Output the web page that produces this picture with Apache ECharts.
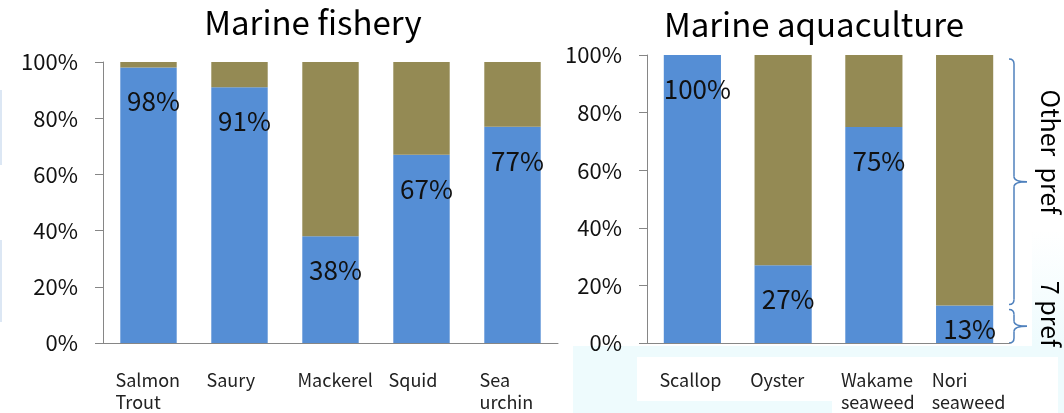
<!DOCTYPE html>
<html>
<head>
<meta charset="utf-8">
<script src="https://cdn.jsdelivr.net/npm/echarts@6/dist/echarts.min.js"></script>
<style>
html,body{margin:0;padding:0;background:#fff;}
#main{width:1064px;height:413px;}
</style>
</head>
<body>
<div id="main"></div>
<script>
// ---- data ----
const fisheryCategories = ['Salmon\nTrout', 'Saury', 'Mackerel', 'Squid', 'Sea\nurchin'];
const fishery7Pref = [98, 91, 38, 67, 77];
const fisheryOtherPref = [2, 9, 62, 33, 23];
const aquaCategories = ['Scallop', 'Oyster', 'Wakame\nseaweed', 'Nori\nseaweed'];
const aqua7Pref = [100, 27, 75, 13];
const aquaOtherPref = [0, 73, 25, 87];
const titles = ['Marine fishery', 'Marine aquaculture'];
const braceLabels = ['Other  pref', '7 pref'];
const yMin = 0, yMax = 100, yInterval = 20;

// ---- styling ----
const FONT = '"Noto Sans CJK JP", "Noto Sans", sans-serif';
const BLUE = '#558ED5';
const OLIVE = '#948A54';
const AXIS = '#868686';
const BRACE = '#4F81BD';
const W = 1064, H = 413;
const grids = [
  {left: 103, right: W - 558, top: 62, bottom: H - 345},
  {left: 647, right: W - 1010, top: 55, bottom: H - 345}
];

function catLabelFormatter(v) {
  return v.split('\n').map(s => '{a|' + s + '}').join('\n');
}

function xAxis(idx, cats) {
  return {
    type: 'category', gridIndex: idx, data: cats,
    axisLine: {lineStyle: {color: AXIS, width: 1}},
    axisTick: {length: 5, lineStyle: {color: AXIS}},
    axisLabel: {
      margin: 26, color: '#222', fontFamily: FONT, fontSize: 18, lineHeight: 22,
      interval: 0, align: 'center', formatter: catLabelFormatter,
      rich: {a: {width: 66, align: 'left', fontFamily: FONT, fontSize: 18, lineHeight: 22, color: '#222'}}
    }
  };
}
function yAxis(idx) {
  return {
    type: 'value', gridIndex: idx, min: yMin, max: yMax, interval: yInterval,
    axisLine: {show: true, lineStyle: {color: AXIS, width: 1}},
    axisTick: {show: true, length: 8, lineStyle: {color: AXIS}},
    splitLine: {show: false},
    axisLabel: {margin: 25, color: '#111', fontFamily: FONT, fontSize: 22, formatter: '{value}%'}
  };
}
function labelled(values) {
  return values.map(v => ({
    value: v,
    label: v < 20
      ? {position: 'insideBottom', distance: 1}
      : {position: 'insideTop', distance: 21}
  }));
}
function seriesPair(idx, pref7, other, gap) {
  return [
    {
      type: 'bar', xAxisIndex: idx, yAxisIndex: idx, stack: 's' + idx, name: '7 pref',
      data: labelled(pref7), barCategoryGap: gap, itemStyle: {color: BLUE},
      label: {show: true, formatter: '{c}%', color: '#111', fontFamily: FONT, fontSize: 26, offset: [5, 0]},
      silent: true
    },
    {
      type: 'bar', xAxisIndex: idx, yAxisIndex: idx, stack: 's' + idx, name: 'Other pref',
      data: other, barCategoryGap: gap, itemStyle: {color: OLIVE}, silent: true
    }
  ];
}

const chart = echarts.init(document.getElementById('main'), null, {renderer: 'canvas'});
const option = {
  animation: false,
  backgroundColor: '#fff',
  title: [
    {text: titles[0], left: 313, top: 6, textAlign: 'center', padding: 0,
     textStyle: {fontFamily: FONT, fontSize: 33, fontWeight: 'normal', color: '#000'}},
    {text: titles[1], left: 814, top: 8, textAlign: 'center', padding: 0,
     textStyle: {fontFamily: FONT, fontSize: 33, fontWeight: 'normal', color: '#000'}}
  ],
  grid: grids,
  xAxis: [xAxis(0, fisheryCategories), xAxis(1, aquaCategories)],
  yAxis: [yAxis(0), yAxis(1)],
  series: [].concat(
    seriesPair(0, fishery7Pref, fisheryOtherPref, '38%'),
    seriesPair(1, aqua7Pref, aquaOtherPref, '37%')
  )
};
chart.setOption(option);

// ---- annotation braces (positions derived from the axis scale) ----
const yOf = v => chart.convertToPixel({yAxisIndex: 1}, v);
const xR = W - grids[1].right;
const y100 = yOf(100), ySplit = yOf(aqua7Pref[3]), y0 = yOf(0);
const braceStyle = {stroke: BRACE, lineWidth: 1.5, fill: 'none'};
function curve(xa, ya, xb, yb, cx, cy) {
  return {type: 'bezierCurve', silent: true,
          shape: {x1: xa, y1: ya, x2: xb, y2: yb, cpx1: cx, cpy1: cy}, style: braceStyle};
}
function seg(xa, ya, xb, yb) {
  return {type: 'line', silent: true, shape: {x1: xa, y1: ya, x2: xb, y2: yb}, style: braceStyle};
}
function brace(top, bot) {
  const x0 = xR - 1, x1 = xR + 4, x2 = xR + 17, mid = (top + bot) / 2, r = 5;
  return [
    curve(x0, top, x1, top + r, x1, top),
    seg(x1, top + r, x1, mid - r),
    curve(x1, mid - r, x2, mid, x1, mid),
    curve(x2, mid, x1, mid + r, x1, mid),
    seg(x1, mid + r, x1, bot - r),
    curve(x1, bot - r, x0, bot, x1, bot)
  ];
}
const tintGrad = {type: 'linear', x: 0, y: 0, x2: 0, y2: 1,
  colorStops: [{offset: 0, color: '#ffffff'}, {offset: 1, color: '#EEFBFD'}]};
chart.setOption({
  graphic: [].concat(
    [
      {type: 'rect', z: -10, silent: true, shape: {x: 573, y: 346, width: W - 573, height: H - 346},
       style: {fill: '#EEFBFD'}},
      {type: 'rect', z: -10, silent: true, shape: {x: 1032, y: 230, width: W - 1032, height: 116},
       style: {fill: tintGrad}},
      {type: 'rect', z: -9, silent: true, shape: {x: 637, y: 357, width: 195, height: 44}, style: {fill: '#fff'}},
      {type: 'rect', z: -9, silent: true, shape: {x: 832, y: 357, width: 226, height: H - 357}, style: {fill: '#fff'}},
      {type: 'rect', z: -9, silent: true, shape: {x: 0, y: 90, width: 2, height: 75}, style: {fill: '#DCE7F4'}},
      {type: 'rect', z: -9, silent: true, shape: {x: 0, y: 240, width: 2, height: 82}, style: {fill: '#DCE7F4'}}
    ],
    brace(y100 + 4, ySplit - 1),
    brace(ySplit + 4, y0),
    [
      {type: 'text', silent: true, x: 1050, y: 152, rotation: -Math.PI / 2,
       style: {text: braceLabels[0], font: '25px ' + FONT, fill: '#000', align: 'center', verticalAlign: 'middle'}},
      {type: 'text', silent: true, x: 1050, y: 314, rotation: -Math.PI / 2,
       style: {text: braceLabels[1], font: '25px ' + FONT, fill: '#000', align: 'center', verticalAlign: 'middle'}}
    ]
  )
});
</script>
</body>
</html>
